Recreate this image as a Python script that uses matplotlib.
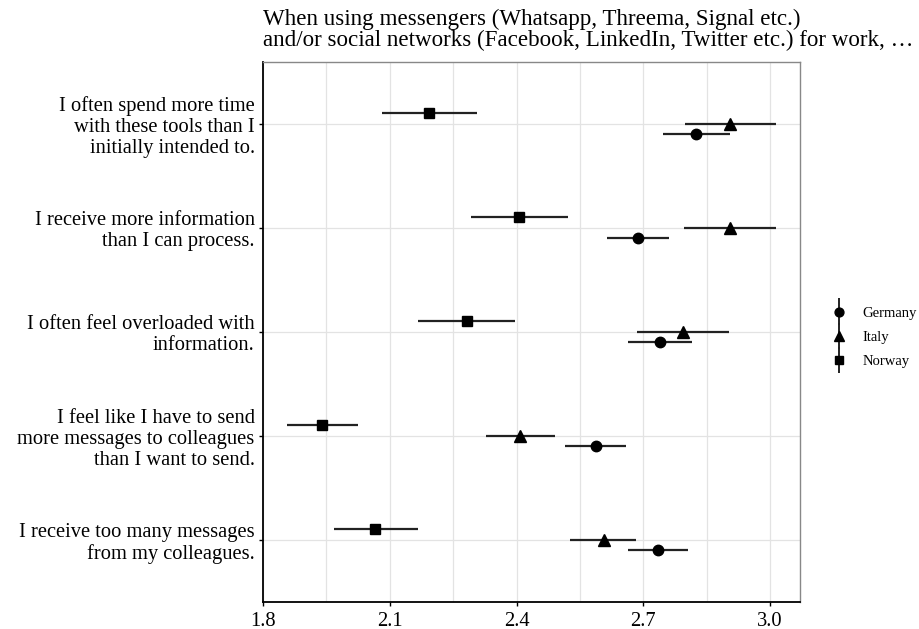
import numpy as np
import matplotlib
matplotlib.use("Agg")
import matplotlib.pyplot as plt
from matplotlib.legend_handler import HandlerErrorbar

plt.rcParams['font.family'] = ['Liberation Serif', 'DejaVu Serif']

# items, top to bottom
items = ["I often spend more time\nwith these tools than I\ninitially intended to.",
         "I receive more information\nthan I can process.",
         "I often feel overloaded with\ninformation.",
         "I feel like I have to send\nmore messages to colleagues\nthan I want to send.",
         "I receive too many messages\nfrom my colleagues."]

countries = ["Germany", "Italy", "Norway"]

germany_mean = [2.825, 2.687, 2.740, 2.588, 2.735]
germany_lo = [2.746, 2.614, 2.665, 2.515, 2.664]
germany_hi = [2.906, 2.762, 2.815, 2.659, 2.806]

italy_mean = [2.906, 2.906, 2.794, 2.409, 2.606]
italy_lo = [2.798, 2.797, 2.685, 2.327, 2.527]
italy_hi = [3.015, 3.015, 2.902, 2.490, 2.683]

norway_mean = [2.193, 2.407, 2.282, 1.940, 2.066]
norway_lo = [2.081, 2.293, 2.166, 1.856, 1.967]
norway_hi = [2.306, 2.523, 2.397, 2.026, 2.166]

x_ticks = [1.8, 2.1, 2.4, 2.7, 3.0]

title = ("When using messengers (Whatsapp, Threema, Signal etc.)\n"
         "and/or social networks (Facebook, LinkedIn, Twitter etc.) for work, \u2026")

fig = plt.figure(figsize=(9.2, 6.29), dpi=100)
ax = fig.add_axes([263/920, 1-602/629, (800-263)/920, (602-61.5)/629])

ypos = np.arange(len(items))[::-1] + 1.0
series = [
    (germany_mean, germany_lo, germany_hi, 'o', 7.5, -0.1),
    (italy_mean, italy_lo, italy_hi, '^', 8.5, 0.0),
    (norway_mean, norway_lo, norway_hi, 's', 7.5, 0.1),
]
handles = []
for (m, lo, hi, mk, ms, off), name in zip(series, countries):
    m = np.array(m); lo = np.array(lo); hi = np.array(hi)
    ax.errorbar(m, ypos + off, xerr=[m - lo, hi - m], fmt=mk, color='black',
                ecolor='#222222', elinewidth=1.6, markersize=ms, capsize=0, zorder=5)
    h = ax.errorbar([np.nan], [np.nan], yerr=[1], fmt=mk, color='black',
                    ecolor='#222222', elinewidth=1.4, markersize=ms * 0.85, capsize=0)
    handles.append(h)

ax.set_xlim(1.8, 3.071)
ax.set_ylim(0.4, 5.6)
ax.set_xticks(x_ticks)
ax.set_xticklabels([f"{v:.1f}" for v in x_ticks])
ax.set_xticks([1.95, 2.25, 2.55, 2.85], minor=True)
ax.set_yticks(ypos)
ax.set_yticklabels(items, linespacing=1.15)

ax.grid(True, which='both', axis='x', color='#e3e3e3', lw=0.9)
ax.grid(True, which='major', axis='y', color='#e3e3e3', lw=0.9)
ax.set_axisbelow(True)

for s in ['top', 'right']:
    ax.spines[s].set_color('#888888')
    ax.spines[s].set_linewidth(1.0)
for s in ['left', 'bottom']:
    ax.spines[s].set_color('black')
    ax.spines[s].set_linewidth(1.3)

ax.tick_params(axis='both', which='major', labelsize=14.8, length=3, width=1,
               colors='black', pad=3)
ax.tick_params(axis='x', which='major', pad=4)
ax.tick_params(axis='x', which='minor', length=0)

fig.text(263/920, 1-9/629, title, ha='left', va='top', fontsize=16.6, linespacing=1.0)

ax.legend(handles, countries, loc='center left', bbox_to_anchor=(1.035, 0.49),
          frameon=False, fontsize=10.5, handlelength=1.0, labelspacing=0.75,
          handletextpad=1.1, handler_map={type(handles[0]): HandlerErrorbar(yerr_size=0.9)})

fig.savefig("out.png", dpi=100)
